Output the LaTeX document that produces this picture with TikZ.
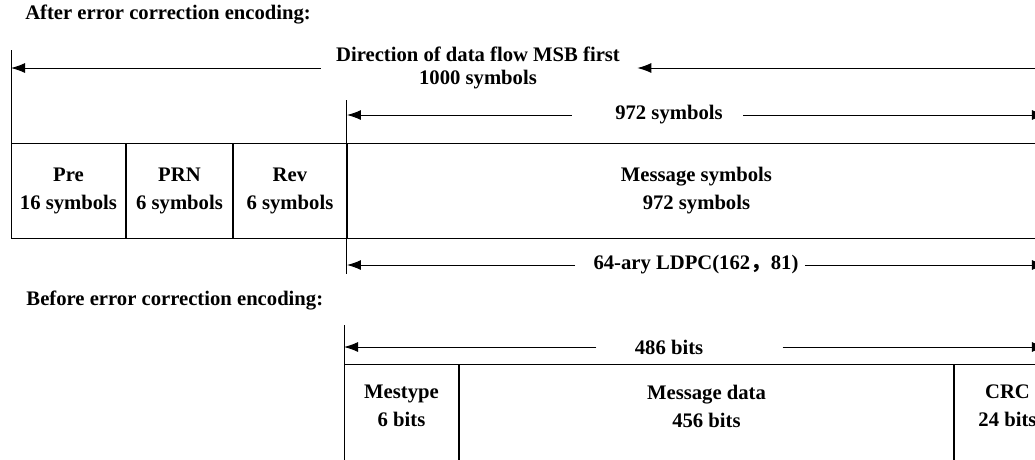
\documentclass[tikz,border=0pt]{standalone}
\usepackage{fontspec}
\setmainfont{Liberation Serif}
\newfontfamily\cjk{Noto Sans CJK SC}
\usetikzlibrary{positioning, arrows.meta}

\newcommand{\cellfont}{\bfseries\fontsize{14.7}{19.9}\selectfont}
\tikzset{
  cell/.style={draw, anchor=north west, inner sep=0, minimum height=2.375cm, align=center, font=\cellfont},
  txt/.style={inner xsep=0, align=center, font=\bfseries\fontsize{14.7}{16.3}\selectfont},
  celltxt/.style={inner xsep=0, align=center, font=\cellfont},
  dim/.style={-{Latex[length=0.35cm,width=0.25cm]}},
}

\begin{document}
\begin{tikzpicture}[line width=0.7pt]
    \useasboundingbox (0,0) rectangle (25.875,-11.475);

    \node[txt, anchor=west] (after) at (0.62,-0.35) {After error correction encoding:};

    \node[cell, minimum width=2.85cm] (pre) at (0.275,-3.575) {Pre\\16 symbols};
    \node[cell, minimum width=2.65cm, right=0pt of pre] (prn) {PRN\\6 symbols};
    \node[cell, minimum width=2.825cm, right=0pt of prn] (rev) {Rev\\6 symbols};
    \node[cell, minimum width=17.45cm, right=0pt of rev] (msg) {Message symbols\\972 symbols};

    \draw (pre.north west) -- ++(0,2.325);
    \draw (msg.north west) -- ++(0,1.075);
    \draw (msg.south west) -- ++(0,-0.875);

    \node[txt] (flow) at (11.95,-1.7) {Direction of data flow MSB first\\1000 symbols};
    \coordinate (flowL) at (0.275,-1.7);
    \coordinate (flowR) at (26.1,-1.7);
    \draw[dim] ([xshift=-0.375cm]flow.west) -- (flowL);
    \draw[dim] (flowR) -- ([xshift=0.425cm]flow.east);

    \node[txt] (sym) at (16.725,-2.875) {972 symbols};
    \draw[dim] ([xshift=-1.075cm]sym.west) -- (sym -| msg.west);
    \draw[dim] ([xshift=0.5cm]sym.east) -- (sym -| msg.east);

    \node[txt] (ldpc) at (17.4,-6.625) {64-ary LDPC(162{\cjk ，}81)};
    \draw[dim] ([xshift=-0.45cm]ldpc.west) -- (ldpc -| msg.west);
    \draw[dim] ([xshift=0.15cm]ldpc.east) -- (ldpc -| msg.east);

    \node[txt, anchor=west] (before) at (0.65,-7.5) {Before error correction encoding:};

    \node[cell, minimum height=2.7cm, minimum width=2.85cm] (mestype) at (8.6,-9.1) {};
    \node[cell, minimum height=2.7cm, minimum width=12.35cm, right=0pt of mestype] (msgdata) {};
    \node[cell, minimum height=2.7cm, minimum width=2.65cm, right=0pt of msgdata] (crc) {};
    \node[celltxt] (mestypetxt) at ([yshift=-1.05cm]mestype.north) {Mestype\\6 bits};
    \node[celltxt] (msgdatatxt) at ([yshift=-1.05cm]msgdata.north) {Message data\\456 bits};
    \node[celltxt] (crctxt) at ([yshift=-1.05cm]crc.north) {CRC\\24 bits};

    \draw (mestype.north west) -- ++(0,0.975);

    \node[txt] (bits) at (16.725,-8.675) {486 bits};
    \draw[dim] ([xshift=-0.95cm]bits.west) -- (bits -| mestype.west);
    \draw[dim] ([xshift=1.975cm]bits.east) -- (bits -| msg.east);
\end{tikzpicture}
\end{document}
